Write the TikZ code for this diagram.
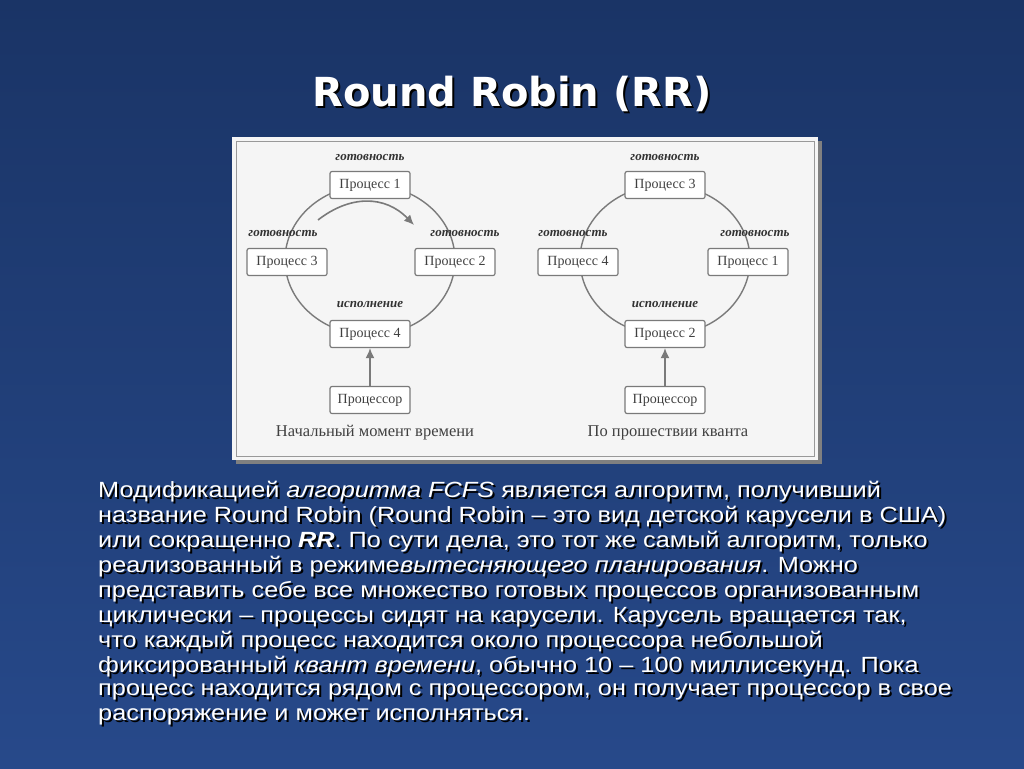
\documentclass[tikz,border=0pt]{standalone}
\usepackage{fontspec}
\usetikzlibrary{arrows.meta}
\setmainfont{Liberation Serif}
\newfontfamily\bodyf{Liberation Sans}
\newfontfamily\titlef{DejaVu Sans}
\definecolor{bg}{HTML}{27498A}
\definecolor{bgd}{HTML}{1A3466}
\definecolor{ln}{HTML}{7A7A7A}
\begin{document}
\begin{tikzpicture}[x=1pt,y=-1pt,
  proc/.style={draw=ln,line width=1.2pt,fill=white,rounded corners=2pt,minimum width=80pt,minimum height=27pt,font=\fontsize{14}{14}\selectfont,text=black!75},
  lab/.style={font=\bfseries\itshape\fontsize{13}{13}\selectfont,text=black!80},
  ring/.style={draw=ln,line width=1.4pt},
  arr/.style={draw=ln,line width=1.6pt,-{Latex[length=10pt,width=9pt]}},
  captxt/.style={font=\fontsize{16.5}{16}\selectfont,text=black!75},
  body/.style={anchor=west,text=white,font=\bodyf\fontsize{22}{20}\selectfont,inner sep=0pt}]
\shade[top color=bgd,bottom color=bg] (0,0) rectangle (1024,768);
\useasboundingbox (0,0) rectangle (1024,768);
\node[text=black,font=\titlef\bfseries\fontsize{40}{40}\selectfont] at (514,96) {Round Robin (RR)};
\node[text=white,font=\titlef\bfseries\fontsize{40}{40}\selectfont] (title) at (512,94) {Round Robin (RR)};
\fill[black!50] (236,141) rectangle (822,464);
\fill[white!96!black] (232,137) rectangle (818,460);
\draw[black!40] (236,141) rectangle (814,456);
% left
\draw[ring] (370,260) ellipse (85 and 75);
\node[proc] (a1) at (370,185) {Процесс 1};
\node[proc] (a2) at (455,262) {Процесс 2};
\node[proc] (a3) at (287,262) {Процесс 3};
\node[proc] (a4) at (370,334) {Процесс 4};
\node[proc] (ap) at (370,400) {Процессор};
\draw[arr] (ap) -- (a4);
\coordinate (as) at (318,220); \coordinate (ae) at (414,225);
\draw[arr] (as) .. controls (350,195) and (385,195) .. (ae);
\node[lab] at (370,157) {готовность};
\node[lab] at (283,233) {готовность};
\node[lab] at (465,233) {готовность};
\node[lab] at (370,305) {исполнение};
\node[captxt] at (375,433) {Начальный момент времени};
% right
\draw[ring] (665,260) ellipse (85 and 75);
\node[proc] (b3) at (665,185) {Процесс 3};
\node[proc] (b1) at (748,262) {Процесс 1};
\node[proc] (b4) at (578,262) {Процесс 4};
\node[proc] (b2) at (665,334) {Процесс 2};
\node[proc] (bp) at (665,400) {Процессор};
\draw[arr] (bp) -- (b2);
\node[lab] at (665,157) {готовность};
\node[lab] at (573,233) {готовность};
\node[lab] at (755,233) {готовность};
\node[lab] at (665,305) {исполнение};
\node[captxt] at (668,433) {По прошествии кванта};
% body text
\foreach \t [count=\i] in {
 {Модификацией \textit{алгоритма FCFS} является алгоритм, получивший},
 {название Round Robin (Round Robin – это вид детской карусели в США)},
 {или сокращенно \textbf{\textit{RR}}. По сути дела, это тот же самый алгоритм, только},
 {реализованный в режиме\textit{вытесняющего планирования}. Можно},
 {представить себе все множество готовых процессов организованным},
 {циклически – процессы сидят на карусели. Карусель вращается так,},
 {что каждый процесс находится около процессора небольшой},
 {фиксированный \textit{квант времени}, обычно 10 – 100 миллисекунд. Пока},
 {процесс находится рядом с процессором, он получает процессор в свое},
 {распоряжение и может исполняться.}} {
 \node[body,text=black,xscale=1.15] at (100,469+25*\i) {\t};
 \node[body,xscale=1.15] at (98,467+25*\i) {\t};
}
\end{tikzpicture}
\end{document}
